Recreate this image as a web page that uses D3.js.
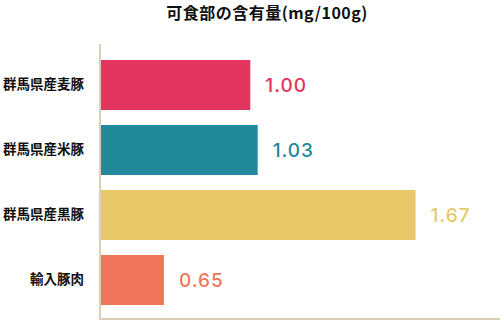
<!DOCTYPE html>
<html>
<head>
<meta charset="utf-8">
<script src="https://cdn.jsdelivr.net/npm/d3@7"></script>
<style>
  body { margin: 0; background: #fff; }
  svg { display: block; }
</style>
</head>
<body>
<script>
// data
var categories = ["群馬県産麦豚", "群馬県産米豚", "群馬県産黒豚", "輸入豚肉"];
var values = [1.00, 1.03, 1.67, 0.65];
var colors = ["#e23661", "#22899b", "#e7c96a", "#ef755b"];
var title = "可食部の含有量(mg/100g)";

var width = 500, height = 321;

var svg = d3.select("body").append("svg")
  .attr("width", width)
  .attr("height", height);

// value axis doesn't start at 0 in the original
var x = d3.scaleLinear()
  .domain([0.395, 2])
  .range([101, 497]);

var y = d3.scaleBand()
  .domain(categories)
  .range([60, 305])
  .paddingInner(15 / 65)
  .paddingOuter(0);

var data = categories.map(function(c, i) {
  return { name: c, value: values[i], color: colors[i] };
});

svg.append("text")
  .attr("x", 267)
  .attr("y", 18.5)
  .attr("text-anchor", "middle")
  .style("font-family", "'Noto Sans CJK JP', sans-serif")
  .style("font-weight", "bold")
  .style("font-size", "16px")
  .style("letter-spacing", "0.5px")
  .style("fill", "#111")
  .text(title);

svg.selectAll("rect.bar")
  .data(data)
  .enter()
  .append("rect")
  .attr("class", "bar")
  .attr("x", x(x.domain()[0]))
  .attr("y", function(d) { return y(d.name); })
  .attr("width", function(d) { return x(d.value) - x(x.domain()[0]); })
  .attr("height", y.bandwidth())
  .style("fill", function(d) { return d.color; });

// axis lines (left + bottom)
svg.append("line")
  .attr("x1", 100).attr("x2", 100)
  .attr("y1", 44).attr("y2", 320)
  .style("stroke", "#dccdb5")
  .style("stroke-width", 2);
svg.append("line")
  .attr("x1", 99).attr("x2", width)
  .attr("y1", 319).attr("y2", 319)
  .style("stroke", "#dccdb5")
  .style("stroke-width", 2);

var yAxis = d3.axisLeft(y).tickSize(0).tickPadding(0);
var g = svg.append("g")
  .attr("transform", "translate(84,0)")
  .call(yAxis);
g.select(".domain").remove();
g.selectAll("text")
  .style("font-family", "'Noto Sans CJK JP', sans-serif")
  .style("font-weight", "bold")
  .style("font-size", "13.5px")
  .style("fill", "#111");

svg.selectAll("text.val")
  .data(data)
  .enter()
  .append("text")
  .attr("class", "val")
  .attr("x", function(d) { return x(d.value) + 15; })
  .attr("y", function(d) { return y(d.name) + y.bandwidth() / 2; })
  .attr("dy", "0.36em")
  .style("font-family", "Inter, sans-serif")
  .style("font-weight", "500")
  .style("font-size", "19px")
  .style("letter-spacing", "1px")
  .style("fill", function(d) { return d.color; })
  .text(function(d) { return d3.format(".2f")(d.value); });
</script>
</body>
</html>
